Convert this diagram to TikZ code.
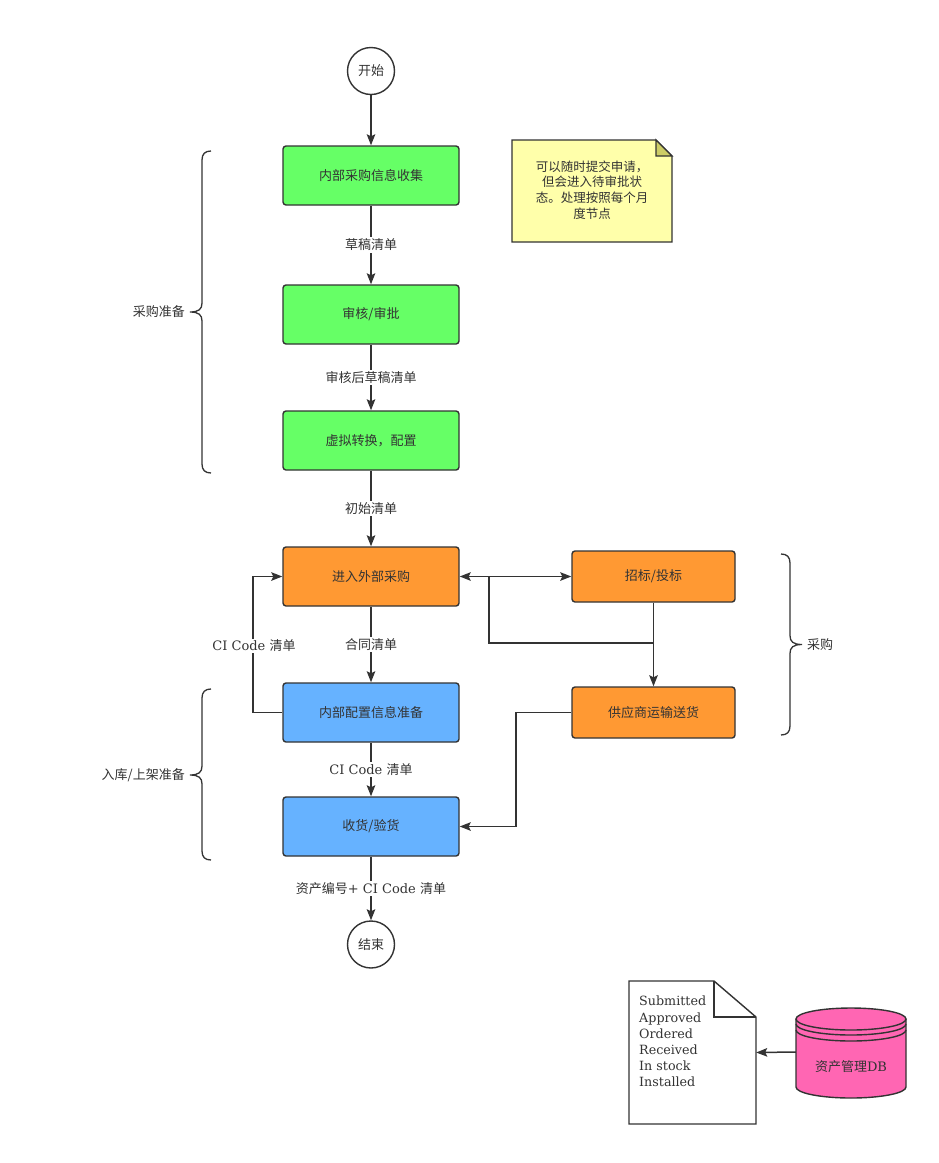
\documentclass[tikz,border=0pt]{standalone}
\usepackage{fontspec}
\setmainfont{DejaVu Serif}
\newfontfamily\cjk{Noto Sans CJK SC}
\usetikzlibrary{arrows.meta}
\definecolor{ln}{HTML}{333333}
\definecolor{gr}{HTML}{66FF66}
\definecolor{org}{HTML}{FF9933}
\definecolor{bl}{HTML}{66B2FF}
\definecolor{notef}{HTML}{FFFFAA}
\definecolor{notefold}{HTML}{CCCC66}
\definecolor{pk}{HTML}{FF66B3}
\begin{document}
\begin{tikzpicture}[x=1pt,y=-1pt,
  proc/.style={draw=ln, line width=1.4pt, rounded corners=3pt, minimum width=176pt, minimum height=59pt, text=ln, font=\cjk\fontsize{13}{16}\selectfont},
  side/.style={proc, minimum width=163pt, minimum height=51pt},
  term/.style={circle, draw=ln, line width=1.4pt, fill=white, minimum size=47pt, inner sep=0pt, text=ln, font=\cjk\fontsize{13}{16}\selectfont},
  arr/.style={draw=ln, line width=1.5pt, -{Stealth[length=11pt,width=8.5pt,inset=2pt]}},
  lin/.style={draw=ln, line width=1.5pt},
  elab/.style={fill=white, text=ln, inner sep=1.5pt, font=\fontsize{13}{16}\selectfont},
  brlab/.style={text=ln, inner sep=1pt, font=\cjk\fontsize{13}{16}\selectfont},
  brace/.style={draw=ln, line width=1.3pt}]
\useasboundingbox (0,0) rectangle (938,1163);

% terminals
\node[term] (start) at (371,71) {开始};
\node[term] (end) at (371,944.5) {结束};

% process boxes
\node[proc, fill=gr] (b1) at (371,175.5) {内部采购信息收集};
\node[proc, fill=gr] (b2) at (371,314.5) {审核/审批};
\node[proc, fill=gr] (b3) at (371,440.5) {虚拟转换，配置};
\node[proc, fill=org] (b4) at (371,576.5) {进入外部采购};
\node[proc, fill=bl] (b5) at (371,712.5) {内部配置信息准备};
\node[proc, fill=bl] (b6) at (371,826.5) {收货/验货};
\node[side, fill=org] (bid) at (653.5,576.5) {招标/投标};
\node[side, fill=org] (sup) at (653.5,712.5) {供应商运输送货};

% main flow
\draw[arr] (start) -- (b1);
\draw[arr] (b1) -- node[elab]{\cjk 草稿清单} (b2);
\draw[arr] (b2) -- node[elab]{\cjk 审核后草稿清单} (b3);
\draw[arr] (b3) -- node[elab]{\cjk 初始清单} (b4);
\draw[arr] (b4) -- node[elab]{\cjk 合同清单} (b5);
\draw[arr] (b5) -- node[elab]{CI Code {\cjk 清单}} (b6);
\draw[arr] (b6) -- node[elab]{{\cjk 资产编号}+ CI Code {\cjk 清单}} (end);

% loop back
\draw[arr] (b5.west) -- (253,712.5) -- (253,576.5) -- (b4.west);
\node[elab] (cil) at (254,646) {CI Code {\cjk 清单}};

% right side
\draw[arr, {Stealth[length=11pt,width=8.5pt,inset=2pt]}-{Stealth[length=11pt,width=8.5pt,inset=2pt]}] (b4.east) -- (bid.west);
\coordinate (j1) at (489,576.5);
\coordinate (j2) at (653.5,643);
\draw[lin] (j1) -- (489,643) -- (j2);
\draw[arr] (bid.south) -- (sup.north);
\draw[arr] (sup.west) -- (516,712.5) -- (516,826.5) -- (b6.east);

% note
\draw[ln, line width=1.3pt, fill=notef] (512,140) -- (656,140) -- (672,156) -- (672,242) -- (512,242) -- cycle;
\draw[ln, line width=1.3pt, fill=notefold] (656,140) -- (656,156) -- (672,156) -- cycle;
\node[text=ln, align=center, font=\cjk\fontsize{12.5}{15.8}\selectfont] (note) at (592,190) {可以随时提交申请，\\但会进入待审批状\\态。处理按照每个月\\度节点};

% braces
\draw[brace] (211,151) .. controls (205,151) and (202,154) .. (202,160) -- (202,303) .. controls (202,309) and (199,312) .. (190,312) .. controls (199,312) and (202,315) .. (202,321) -- (202,464) .. controls (202,470) and (205,473) .. (211,473);
\node[brlab, anchor=east] (l1) at (186,312) {采购准备};
\draw[brace] (211,689) .. controls (205,689) and (202,692) .. (202,698) -- (202,766) .. controls (202,772) and (199,775) .. (190,775) .. controls (199,775) and (202,778) .. (202,784) -- (202,851) .. controls (202,857) and (205,860) .. (211,860);
\node[brlab, anchor=east] (l2) at (186,775) {入库/上架准备};
\draw[brace] (781,554) .. controls (787,554) and (790,557) .. (790,563) -- (790,635.5) .. controls (790,641.5) and (793,644.5) .. (802,644.5) .. controls (793,644.5) and (790,647.5) .. (790,653.5) -- (790,726) .. controls (790,732) and (787,735) .. (781,735);
\node[brlab, anchor=west] (l3) at (806,645) {采购};

% document
\draw[ln, line width=1.4pt, fill=white] (629,981) -- (714,981) -- (756,1017) -- (756,1124) -- (629,1124) -- cycle;
\draw[ln, line width=1.4pt] (714,981) -- (714,1017) -- (756,1017);
\node[minimum width=127pt, minimum height=143pt, inner sep=0pt] (doc) at (692.5,1052.5) {};
\node[anchor=north west, align=left, text=ln, inner sep=0pt, font=\fontsize{12.7}{16.2}\selectfont] (doctxt) at (639,996) {Submitted\\Approved\\Ordered\\Received\\In stock\\Installed};

% database
\fill[pk] (796,1019) -- (796,1087) arc[start angle=180, end angle=360, x radius=55pt, y radius=11pt] -- (906,1019) arc[start angle=0, end angle=180, x radius=55pt, y radius=11pt] -- cycle;
\draw[ln, line width=1.4pt] (796,1019) -- (796,1087) arc[start angle=180, end angle=360, x radius=55pt, y radius=11pt] -- (906,1019);
\draw[ln, line width=1.4pt] (851,1019) ellipse [x radius=55pt, y radius=11pt];
\draw[ln, line width=1.4pt] (796,1024) arc[start angle=180, end angle=360, x radius=55pt, y radius=11pt];
\draw[ln, line width=1.4pt] (796,1030) arc[start angle=180, end angle=360, x radius=55pt, y radius=11pt];
\node[minimum width=110pt, minimum height=92pt, inner sep=0pt] (db) at (851,1052) {};
\node[text=ln, font=\fontsize{13}{16}\selectfont] (dbtxt) at (851,1067) {{\cjk 资产管理}DB};
\draw[arr] (db.west) -- (doc.east);
\end{tikzpicture}
\end{document}
